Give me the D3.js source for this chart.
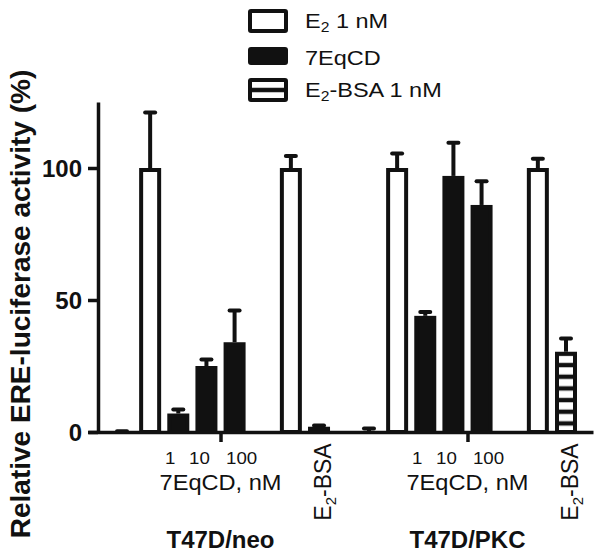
<!DOCTYPE html>
<html>
<head>
<meta charset="utf-8">
<script src="https://cdn.jsdelivr.net/npm/d3@7/dist/d3.min.js"></script>
<style>
  html, body { margin: 0; padding: 0; background: #fff; }
  svg { display: block; font-family: "Liberation Sans", Arial, Helvetica, sans-serif; }
</style>
</head>
<body>
<svg id="chart" width="604" height="559"></svg>
<script>
// ---------------- data ----------------
const groups = ["T47D/neo", "T47D/PKC"];
const conditions = ["Control", "E2 1 nM", "7EqCD 1 nM", "7EqCD 10 nM", "7EqCD 100 nM", "E2 1 nM", "E2-BSA 1 nM"];
const slots = [0, 1, 2, 3, 4, 6, 7];
const kinds = ["white", "white", "black", "black", "black", "white", "hatch"];
const neoValues = [0, 100, 7, 25, 34, 100, 2];
const neoErrors = [0.3, 21, 1.5, 2.5, 12, 4.5, 0.5];
const pkcValues = [0, 100, 44, 97, 86, 100, 30.4];
const pkcErrors = [1.3, 5.5, 1.5, 12.6, 9, 3.5, 5];
const doseLabels = ["1", "10", "100"];
const yTicks = [0, 50, 100];
const legendLabels = [["E", "2", " 1 nM"], ["7EqCD", "", ""], ["E", "2", "-BSA 1 nM"]];
const legendKinds = ["white", "black", "hatch"];

// ---------------- layout ----------------
const ink = "#111";
const groupOffset = [0, 8.775];
const svg = d3.select("#chart");
const y = d3.scaleLinear().domain([0, 125]).range([432, 102]);
const x = d3.scaleLinear().domain([0, 15.775]).range([122, 566]);
const xAxisScale = d3.scaleLinear().domain([x.invert(88), x.invert(593)]).range([88, 593]);
const barW = 18, sw = 4;

const defs = svg.append("defs");
function hatchPattern(id, originY) {
  const p = defs.append("pattern").attr("id", id)
    .attr("patternUnits", "userSpaceOnUse")
    .attr("x", 0).attr("y", originY).attr("width", 10).attr("height", 11.67);
  p.append("rect").attr("width", 10).attr("height", 11.67).attr("fill", "#fff");
  p.append("rect").attr("y", 11.67 / 2 - 2.2).attr("width", 10).attr("height", 4.4).attr("fill", ink);
}

const bars = [];
groups.forEach((g, gi) => {
  const vals = gi === 0 ? neoValues : pkcValues;
  const errs = gi === 0 ? neoErrors : pkcErrors;
  conditions.forEach((c, i) => {
    bars.push({ group: g, gi, cond: c, pos: slots[i] + groupOffset[gi], kind: kinds[i], v: vals[i], e: errs[i] });
  });
});

// error bars
const eb = svg.append("g").attr("stroke", ink).attr("fill", "none");
bars.forEach(d => {
  const cx = x(d.pos);
  eb.append("line").attr("x1", cx).attr("x2", cx).attr("y1", y(d.v)).attr("y2", y(d.v + d.e)).attr("stroke-width", 4);
  eb.append("line").attr("x1", cx - 5).attr("x2", cx + 5).attr("y1", y(d.v + d.e)).attr("y2", y(d.v + d.e))
    .attr("stroke-width", 4).attr("stroke-linecap", "round");
});

// bars
bars.forEach((d, i) => {
  let fill = d.kind === "black" ? ink : "#fff";
  if (d.kind === "hatch") {
    const id = "hatch" + i;
    hatchPattern(id, y(d.v) + 7.5);
    fill = `url(#${id})`;
  }
  const top = y(d.v) + sw / 2;
  svg.append("rect")
    .attr("x", x(d.pos) - barW / 2).attr("width", barW)
    .attr("y", Math.min(top, y(0))).attr("height", Math.max(0, y(0) - top))
    .attr("fill", fill).attr("stroke", ink).attr("stroke-width", sw);
});

// y axis
const yAxis = svg.append("g").attr("transform", "translate(98,0)")
  .call(d3.axisLeft(y).tickValues(yTicks).tickSize(10).tickSizeOuter(0).tickPadding(6));
yAxis.select(".domain").attr("stroke", ink).attr("stroke-width", 3.5);
yAxis.selectAll(".tick line").attr("stroke", ink).attr("stroke-width", 3.5);
yAxis.selectAll(".tick text").attr("fill", ink).attr("font-size", 24).attr("font-weight", "bold")
  .attr("font-family", "Liberation Sans, Arial, sans-serif").attr("dy", "0.36em");

// x axis
const tickPos = groups.map((g, gi) => 3.5 + groupOffset[gi]);
const xAxis = svg.append("g").attr("transform", "translate(0,432)")
  .call(d3.axisBottom(xAxisScale).tickValues(tickPos).tickFormat("").tickSize(10).tickSizeOuter(0));
xAxis.select(".domain").attr("stroke", ink).attr("stroke-width", 3.5);
xAxis.selectAll(".tick line").attr("stroke", ink).attr("stroke-width", 3.5);

// x labels
const doseDx = [-8, -7, 7];
groups.forEach((g, gi) => {
  doseLabels.forEach((t, k) => {
    svg.append("text").attr("transform", `translate(${x(slots[2 + k] + groupOffset[gi]) + doseDx[k]},464) scale(1.1,1)`)
      .attr("text-anchor", "middle").attr("font-size", 17).attr("fill", ink).text(t);
  });
  svg.append("text").attr("transform", `translate(${x(tickPos[gi])},490) scale(1.05,1)`)
    .attr("text-anchor", "middle").attr("font-size", 22.5).attr("fill", ink).text("7EqCD, nM");
  const bx = x(slots[6] + groupOffset[gi]) + 12;
  const t = svg.append("text").attr("transform", `translate(${bx},482) rotate(-90)`)
    .attr("text-anchor", "middle").attr("font-size", 23).attr("fill", ink);
  t.append("tspan").text("E");
  t.append("tspan").attr("font-size", 15).attr("dy", 5).text("2");
  t.append("tspan").attr("dy", -5).text("-BSA");
  svg.append("text").attr("x", x(tickPos[gi])).attr("y", 548)
    .attr("text-anchor", "middle").attr("font-size", 24).attr("font-weight", "bold").attr("fill", ink).text(g);
});

// y title
svg.append("text").attr("transform", "translate(30,304) rotate(-90)")
  .attr("text-anchor", "middle").attr("font-size", 28).attr("font-weight", "bold").attr("fill", ink)
  .text("Relative ERE-luciferase activity (%)");

// legend
const legBoxes = [[11, 20], [49, 14], [80, 20]];
legendKinds.forEach((k, i) => {
  let fill = k === "black" ? ink : "#fff";
  if (k === "hatch") { hatchPattern("hatchLeg", legBoxes[i][0] + legBoxes[i][1] / 2 - 11.67 / 2); fill = "url(#hatchLeg)"; }
  svg.append("rect").attr("x", 250).attr("y", legBoxes[i][0]).attr("width", 36).attr("height", legBoxes[i][1])
    .attr("fill", fill).attr("stroke", ink).attr("stroke-width", 4).attr("rx", 1);
  const ty = [27.5, 65, 97][i];
  const t = svg.append("text").attr("transform", `translate(305,${ty}) scale(1.12,1)`)
    .attr("font-size", 21).attr("fill", ink);
  const [a, sub, b] = legendLabels[i];
  t.append("tspan").text(a);
  if (sub) {
    t.append("tspan").attr("font-size", 14).attr("dy", 4).text(sub);
    t.append("tspan").attr("dy", -4).text(b);
  }
});
</script>
</body>
</html>
